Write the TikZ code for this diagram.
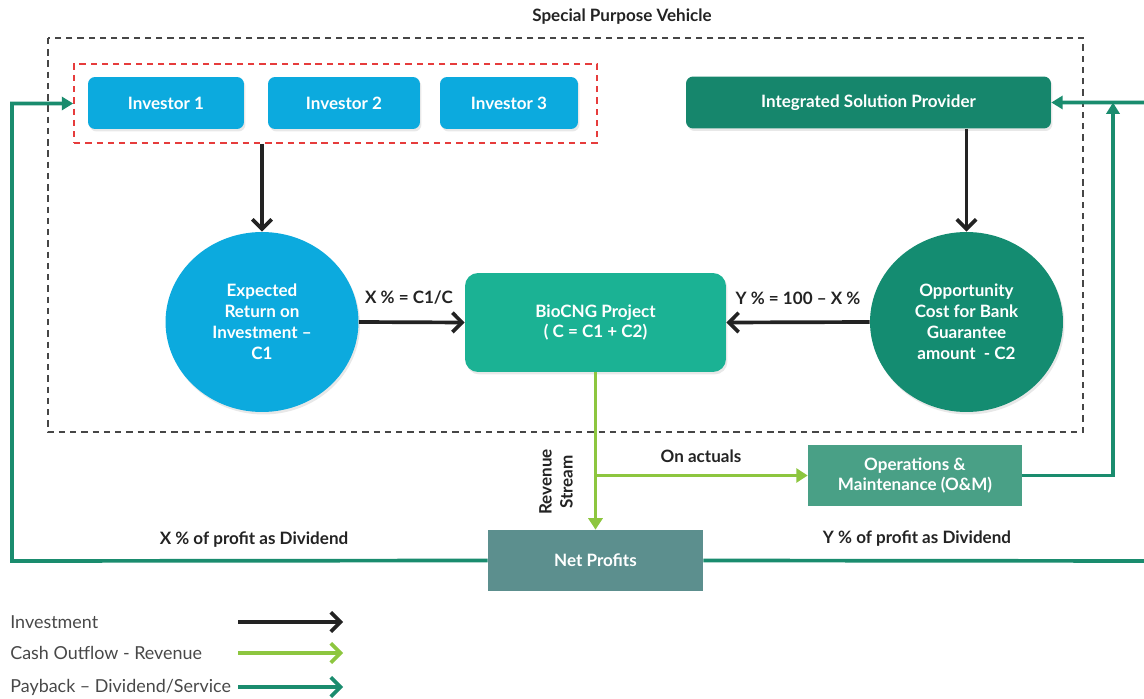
\documentclass[tikz,border=0pt]{standalone}
\usepackage{fontspec}
\setmainfont{Lato}
\usetikzlibrary{arrows.meta,shapes.geometric,shadows}

\definecolor{invblue}{RGB}{12,170,222}
\definecolor{ispgreen}{RGB}{22,134,108}
\definecolor{oppgreen}{RGB}{20,140,113}
\definecolor{biogreen}{RGB}{27,178,148}
\definecolor{omgreen}{RGB}{73,160,134}
\definecolor{netgrey}{RGB}{92,143,142}
\definecolor{paycol}{RGB}{26,140,110}
\definecolor{revcol}{RGB}{141,198,63}
\definecolor{invcol}{RGB}{35,35,35}
\definecolor{reddash}{RGB}{230,60,60}
\definecolor{spvdash}{RGB}{70,70,70}
\definecolor{legtext}{RGB}{72,72,72}

\tikzset{
  txt/.style={font=\fontsize{9.7}{11.9}\selectfont\bfseries, align=center, inner sep=0pt},
  lbl/.style={txt, text=invcol},
  box/.style={txt, text=white},
  soft/.style={drop shadow={opacity=0.18, shadow xshift=0.03cm, shadow yshift=-0.05cm}},
  invbox/.style={box, soft, rounded corners=0.14cm, fill=invblue, minimum height=1.04cm},
  ispbox/.style={box, soft, rounded corners=0.14cm, fill=ispgreen, minimum height=1.04cm, minimum width=7.3cm},
  circ/.style={box, soft, ellipse, minimum width=3.86cm, minimum height=3.6cm},
  biobox/.style={box, soft, rounded corners=0.26cm, fill=biogreen, minimum width=5.22cm, minimum height=1.98cm},
  ombox/.style={box, fill=omgreen, minimum width=4.28cm, minimum height=1.22cm},
  netbox/.style={box, fill=netgrey, minimum width=4.3cm, minimum height=1.22cm},
  spvline/.style={draw=spvdash, line width=1pt, dash pattern=on 3.6pt off 2.8pt},
  redline/.style={draw=reddash, line width=1pt, dash pattern=on 3.6pt off 2.8pt},
  invest/.style={draw=invcol, line width=2.1pt, -{Straight Barb[length=5.5pt,width=11pt]}},
  revenue/.style={draw=revcol, line width=1.8pt, -{Triangle[length=6.5pt,width=8pt]}},
  payback/.style={draw=paycol, line width=2.1pt, -{Triangle[length=6.5pt,width=7.5pt]}},
  legtxt/.style={font=\fontsize{10.2}{12}\selectfont, text=legtext, anchor=west, inner sep=0pt}
}

\begin{document}
\begin{tikzpicture}[x=0.02cm,y=-0.02cm]
\useasboundingbox (0,0) rectangle (1144,699);
\clip (0,0) rectangle (1144,699);

%vehicle
\node[lbl] (spvt) at (622,17) {Special Purpose Vehicle};
\draw[spvline] (48,38) rectangle (1083,432);

%investors
\node[redline, minimum width=10.46cm, minimum height=1.58cm] (inv) at (335.5,103.5) {};
\node[invbox, minimum width=3.12cm] (inv1) at (166,103) {Investor 1};
\node[invbox, minimum width=3.04cm] (inv2) at (344,103) {Investor 2};
\node[invbox, minimum width=2.76cm] (inv3) at (509,103) {Investor 3};

%provider
\node[ispbox] (isp) at (868.5,102.5) {Integrated Solution Provider};

%project
\node[circ, fill=invblue] (roi) at (262,322) {Expected\\Return on\\Investment --\\C1};
\node[circ, fill=oppgreen] (opp) at (966.5,322) {Opportunity\\Cost for Bank\\Guarantee\\amount\ \ - C2};
\node[biobox] (bio) at (595.5,322.5) {BioCNG Project\\( C = C1 + C2)};

\draw[invest] (roi |- inv.south) -- (roi.north);
\draw[invest] (isp.south -| opp) -- (opp.north);
\draw[invest] (roi.east) -- (bio.west);
\draw[invest] (opp.west) -- (bio.east);
\node[lbl] (xpct) at (409,298) {X \% = C1/C};
\node[lbl] (ypct) at (798,298) {Y \% = 100 -- X \%};

%revenue
\node[ombox] (om) at (915,475.5) {Operations \&\\Maintenance (O\&M)};
\node[netbox] (net) at (595.5,560.5) {Net Profits};
\coordinate (br) at (bio.south |- om.west);
\draw[revenue] (bio.south) -- (net.north);
\draw[revenue] (br) -- (om.west);
\node[lbl, rotate=90] (rev) at (556,482) {Revenue\\Stream};
\node[lbl] (act) at (701,456) {On actuals};

%payback
\coordinate (lft) at (12,561);
\coordinate (rgt) at (1160,561);
\coordinate (jn) at (1113,102.5);
\draw[payback] (net.west) -- (lft) |- (inv.west);
\draw[payback] (net.east) -- (rgt) |- (isp.east);
\draw[payback] (om.east) -| (jn);
\node[lbl] (xdiv) at (254,540) {X \% of profit as Dividend};
\node[lbl] (ydiv) at (917,539) {Y \% of profit as Dividend};

%legend
\node[legtxt] (lg1) at (10,622) {Investment};
\node[legtxt] (lg2) at (10,653) {Cash Outflow - Revenue};
\node[legtxt] (lg3) at (10,687) {Payback -- Dividend/Service};
\coordinate (lg1a) at (238,622);
\coordinate (lg1b) at (343,622);
\coordinate (lg2a) at (238,653);
\coordinate (lg2b) at (343,653);
\coordinate (lg3a) at (238,687);
\coordinate (lg3b) at (343,687);
\draw[invest] (lg1a) -- (lg1b);
\draw[invest, draw=revcol] (lg2a) -- (lg2b);
\draw[invest, draw=paycol] (lg3a) -- (lg3b);

\end{tikzpicture}
\end{document}
